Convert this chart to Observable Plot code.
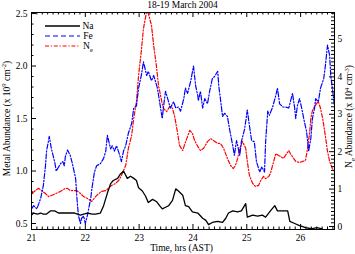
<!DOCTYPE html>
<html>
<head>
<meta charset="utf-8">
<script src="https://cdn.jsdelivr.net/npm/d3@7"></script>
<script src="https://cdn.jsdelivr.net/npm/@observablehq/plot@0.6"></script>
<style>
  html, body { margin: 0; padding: 0; background: white; }
  #chart svg { display: block; }
</style>
</head>
<body>
<div id="chart"></div>
<script>
// ---- Data ----
const title = "18-19 March 2004";
const xTicks = [21, 22, 23, 24, 25, 26];
const leftTicks = [0.5, 1.0, 1.5, 2.0, 2.5];
const rightTicks = [0, 1, 2, 3, 4, 5];

// Na (metal abundance, x10^9 cm^-2)
const naTime = [21.00,21.04,21.11,21.17,21.22,21.28,21.35,21.43,21.50,21.59,21.65,21.72,21.80,21.91,21.97,22.04,22.13,22.19,22.28,22.34,22.41,22.47,22.52,22.60,22.65,22.71,22.78,22.84,22.90,22.95,22.99,23.06,23.12,23.17,23.25,23.32,23.38,23.43,23.51,23.55,23.62,23.68,23.73,23.81,23.86,23.92,23.99,24.09,24.18,24.24,24.29,24.36,24.46,24.55,24.61,24.66,24.74,24.83,24.90,24.98,25.01,25.11,25.20,25.29,25.35,25.44,25.52,25.57,25.67,25.76,25.80,25.89,25.98,26.04,26.09,26.20,26.30,26.40];
const naValue = [0.58,0.60,0.59,0.60,0.59,0.59,0.62,0.62,0.60,0.60,0.60,0.60,0.60,0.58,0.59,0.60,0.59,0.59,0.60,0.67,0.79,0.88,0.91,0.93,0.97,1.00,0.93,0.95,0.93,0.91,0.84,0.81,0.76,0.70,0.73,0.71,0.67,0.64,0.66,0.67,0.72,0.83,0.81,0.77,0.67,0.66,0.61,0.60,0.55,0.53,0.49,0.51,0.52,0.51,0.55,0.60,0.62,0.61,0.62,0.69,0.56,0.58,0.57,0.58,0.56,0.62,0.67,0.62,0.62,0.62,0.52,0.50,0.48,0.47,0.46,0.45,0.46,0.45];

// Fe (metal abundance, x10^9 cm^-2)
const feTime = [21.00,21.04,21.10,21.17,21.22,21.26,21.28,21.33,21.37,21.43,21.46,21.54,21.58,21.61,21.63,21.67,21.72,21.76,21.82,21.84,21.87,21.91,21.93,21.97,22.00,22.04,22.10,22.13,22.17,22.21,22.28,22.34,22.38,22.41,22.47,22.50,22.54,22.58,22.64,22.67,22.71,22.75,22.80,22.86,22.90,22.95,22.99,23.04,23.08,23.14,23.17,23.23,23.27,23.30,23.34,23.38,23.43,23.45,23.49,23.53,23.58,23.64,23.68,23.73,23.77,23.83,23.86,23.90,23.96,24.01,24.05,24.09,24.10,24.14,24.18,24.22,24.27,24.31,24.36,24.40,24.46,24.48,24.51,24.55,24.59,24.64,24.68,24.74,24.77,24.81,24.87,24.90,24.96,25.01,25.05,25.09,25.14,25.18,25.24,25.28,25.33,25.35,25.39,25.42,25.48,25.54,25.57,25.61,25.67,25.72,25.78,25.81,25.85,25.89,25.91,25.94,25.98,26.02,26.07,26.11,26.15,26.19,26.22,26.26,26.28,26.33,26.37,26.43,26.46,26.50,26.54,26.56,26.59,26.63];
const feValue = [0.64,0.67,0.64,0.74,0.86,1.05,1.19,1.33,1.21,1.09,1.00,1.07,1.09,1.05,1.14,1.20,1.15,1.07,0.93,0.77,0.58,0.50,0.55,0.57,0.50,0.58,0.74,0.86,0.99,1.05,1.07,1.12,1.19,1.34,1.21,1.24,1.19,1.24,1.15,1.09,1.19,1.24,1.36,1.45,1.60,1.62,1.79,1.91,2.04,1.91,1.95,1.86,1.91,1.86,1.79,1.66,1.50,1.60,1.76,1.69,1.60,1.66,1.60,1.61,1.57,1.69,1.79,1.74,1.86,2.00,1.81,1.72,1.67,1.76,1.60,1.69,1.64,1.76,1.88,1.90,1.95,1.81,1.69,1.52,1.55,1.52,1.40,1.24,1.15,1.29,1.15,1.28,1.40,1.58,1.43,1.29,1.28,1.09,0.99,1.04,0.99,1.28,1.57,1.53,1.61,1.72,1.79,1.64,1.61,1.61,1.60,1.66,1.74,1.60,1.50,1.62,1.69,1.60,1.47,1.38,1.19,1.31,1.50,1.60,1.69,1.66,1.79,1.88,2.00,2.20,2.10,1.91,1.79,1.62];

// Ne (electron density, x10^4 cm^-3), right axis
const neTime = [21.00,21.02,21.07,21.13,21.19,21.26,21.32,21.37,21.45,21.54,21.63,21.67,21.72,21.84,21.91,21.97,22.04,22.12,22.19,22.25,22.30,22.38,22.43,22.49,22.56,22.62,22.67,22.75,22.80,22.86,22.90,22.95,22.99,23.04,23.08,23.14,23.17,23.23,23.27,23.32,23.36,23.42,23.45,23.51,23.57,23.62,23.66,23.71,23.75,23.81,23.84,23.90,23.94,23.99,24.03,24.09,24.14,24.20,24.27,24.33,24.38,24.46,24.51,24.57,24.64,24.70,24.75,24.79,24.83,24.87,24.92,24.98,25.01,25.05,25.11,25.16,25.22,25.26,25.31,25.35,25.41,25.44,25.50,25.54,25.59,25.63,25.68,25.72,25.78,25.81,25.87,25.91,25.98,26.04,26.09,26.13,26.17,26.19,26.22,26.26,26.30,26.33,26.37,26.41,26.46,26.50,26.54,26.59,26.63];
const neValue = [0.96,0.88,0.96,1.02,0.96,0.88,0.80,0.83,0.88,0.94,1.02,1.02,0.96,0.96,0.88,0.80,0.75,0.67,0.80,0.88,0.94,0.96,1.02,1.10,1.15,1.23,1.36,1.63,2.09,2.43,2.89,3.34,4.04,4.68,5.29,5.75,5.70,5.37,4.84,4.30,3.77,3.34,3.16,3.07,3.21,3.16,2.94,2.54,2.17,2.03,2.17,2.41,2.57,2.49,2.30,2.14,2.03,2.09,2.27,2.35,2.30,2.22,2.22,2.09,1.82,1.63,1.55,1.63,1.82,2.09,2.27,2.09,1.74,1.36,1.15,1.07,1.10,1.23,1.34,1.28,1.34,1.42,1.74,1.95,1.90,1.87,1.82,1.90,2.03,1.95,1.82,1.74,1.71,1.74,1.76,2.09,2.54,2.89,3.10,3.21,3.29,3.34,3.16,2.89,2.43,2.01,1.74,1.55,1.47];

// ---- Scales: left axis domain and right axis domain (mapped onto left) ----
const L0 = 0.443, L1 = 2.51;   // metal abundance axis
const N0 = -0.08, N1 = 5.72;   // Ne axis
const toLeft = n => L0 + (n - N0) * (L1 - L0) / (N1 - N0);
const fromLeft = v => N0 + (v - L0) * (N1 - N0) / (L1 - L0);
const X0 = 21, X1 = 26.63;

const W = 355, H = 254;
const mL = 31, mR = 21, mT = 12, mB = 25;
const pw = W - mL - mR, ph = H - mT - mB;

const naRows = naTime.map((t, i) => ({t, v: naValue[i]}));
const feRows = feTime.map((t, i) => ({t, v: feValue[i]}));
const neRows = neTime.map((t, i) => ({t, v: toLeft(neValue[i])}));

const xMinor = d3.range(210, 267).map(d => d / 10).filter(d => d <= X1 && !Number.isInteger(d));
const yMinorL = d3.range(5, 26).map(d => d / 10).filter(d => Math.abs(d * 2 - Math.round(d * 2)) > 1e-6);
const yMinorR = d3.range(1, 58).map(d => d / 10).filter(d => !Number.isInteger(d)).map(toLeft);
const yMajorR = rightTicks.map(toLeft);

const MAJ = 5, MIN = 2.5;
const font = "'Liberation Serif', 'Times New Roman', serif";

const svg = Plot.plot({
  width: W, height: H,
  marginLeft: mL, marginRight: mR, marginTop: mT, marginBottom: mB,
  style: {fontFamily: font, fontSize: "9.5px", background: "white", color: "black"},
  x: {domain: [X0, X1]},
  y: {domain: [L0, L1]},
  marks: [
    Plot.lineY(neRows, {x: "t", y: "v", stroke: "#ff0000", strokeWidth: 1.2, strokeDasharray: "4,1.8,1.2,1.8", clip: true}),
    Plot.lineY(feRows, {x: "t", y: "v", stroke: "#0000ff", strokeWidth: 1.2, strokeDasharray: "5,1.8,1.3,1.8", clip: true}),
    Plot.lineY(naRows, {x: "t", y: "v", stroke: "black", strokeWidth: 1.3, clip: true}),
    // inward ticks: bottom & top
    Plot.tickX(xTicks, {x: d => d, insetTop: ph - MAJ, stroke: "black"}),
    Plot.tickX(xTicks, {x: d => d, insetBottom: ph - MAJ, stroke: "black"}),
    Plot.tickX(xMinor, {x: d => d, insetTop: ph - MIN, stroke: "black"}),
    Plot.tickX(xMinor, {x: d => d, insetBottom: ph - MIN, stroke: "black"}),
    // left ticks
    Plot.tickY(leftTicks, {y: d => d, insetRight: pw - MAJ, stroke: "black"}),
    Plot.tickY(yMinorL, {y: d => d, insetRight: pw - MIN, stroke: "black"}),
    // right ticks
    Plot.tickY(yMajorR, {y: d => d, insetLeft: pw - MAJ, stroke: "black"}),
    Plot.tickY(yMinorR, {y: d => d, insetLeft: pw - MIN - 0.5, stroke: "black"}),
    Plot.frame({stroke: "black", strokeWidth: 1}),
    Plot.axisX({ticks: xTicks, tickSize: 0, tickPadding: 5, tickFormat: d => String(d), label: null}),
    Plot.axisY({anchor: "left", ticks: leftTicks, tickSize: 0, tickPadding: 4, tickFormat: d3.format(".1f"), label: null}),
    Plot.axisY({anchor: "right", ticks: yMajorR, tickSize: 0, tickPadding: 3, tickFormat: d => String(Math.round(fromLeft(d))), label: null})
  ]
});

document.getElementById("chart").appendChild(svg);

// ---- Titles, axis labels, legend ----
const s = d3.select(svg);
const g = s.append("g").attr("font-family", font).attr("font-size", 9.5).attr("fill", "black");

g.append("text").attr("x", mL + pw / 2).attr("y", 7.5).attr("text-anchor", "middle").text(title);
g.append("text").attr("x", mL + pw / 2 - 1).attr("y", 251).attr("text-anchor", "middle").text("Time, hrs (AST)");

function richText(sel, parts) {
  for (const [txt, kind] of parts) {
    const t = sel.append("tspan").text(txt);
    if (kind === "sup") t.attr("font-size", 6.5).attr("dy", -3.5);
    if (kind === "sub") t.attr("font-size", 6.5).attr("dy", 2.5);
    if (kind === "up") t.attr("dy", 3.5);
    if (kind === "down") t.attr("dy", -2.5);
  }
}

const leftLab = g.append("text").attr("text-anchor", "middle")
  .attr("transform", `translate(9.5,${mT + ph / 2 - 2}) rotate(-90)`);
richText(leftLab, [["Metal Abundance (x 10"], ["9", "sup"], [" cm", "up"], ["-2", "sup"], [")", "up"]]);

const rightLab = g.append("text").attr("text-anchor", "middle")
  .attr("transform", `translate(352,${mT + ph / 2 - 4}) rotate(-90)`);
richText(rightLab, [["N"], ["e", "sub"], [" Abundance (x 10", "down"], ["4", "sup"], [" cm", "up"], ["-3", "sup"], [")", "up"]]);

// legend
const legend = [
  {label: [["Na"]], stroke: "black", dash: null, w: 1.3},
  {label: [["Fe"]], stroke: "#0000ff", dash: "5,3", w: 1.2},
  {label: [["N"], ["e", "sub"]], stroke: "#ff0000", dash: "4,1.8,1.2,1.8", w: 1.2}
];
legend.forEach((d, i) => {
  const y = 26 + i * 10;
  g.append("line").attr("x1", 45).attr("x2", 80).attr("y1", y).attr("y2", y)
    .attr("stroke", d.stroke).attr("stroke-width", d.w).attr("stroke-dasharray", d.dash);
  const t = g.append("text").attr("x", 88).attr("y", y + 3);
  richText(t, d.label);
});
</script>
</body>
</html>
